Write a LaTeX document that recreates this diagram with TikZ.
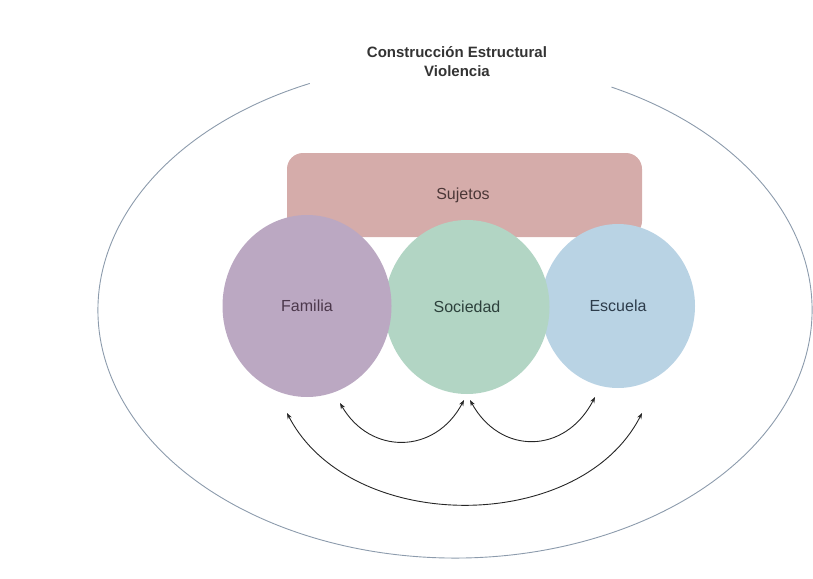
\documentclass[tikz,border=0pt]{standalone}
\usepackage{fontspec}
\setmainfont{Liberation Sans}
\usetikzlibrary{shapes.geometric,arrows.meta}
\definecolor{boxfill}{RGB}{213,172,170}
\definecolor{famfill}{RGB}{187,168,194}
\definecolor{socfill}{RGB}{178,213,196}
\definecolor{escfill}{RGB}{185,211,228}
\definecolor{famtext}{RGB}{75,55,75}
\definecolor{soctext}{RGB}{45,65,60}
\definecolor{esctext}{RGB}{45,60,75}
\definecolor{boxtext}{RGB}{75,55,55}
\definecolor{ringcol}{RGB}{140,155,172}
\tikzset{
  circ/.style={ellipse, inner sep=0pt, font=\fontsize{16}{19}\selectfont},
  link/.style={draw=black!85, line width=0.9pt, {Stealth[length=6pt,width=4.5pt]}-{Stealth[length=6pt,width=4.5pt]}},
}
\begin{document}
\begin{tikzpicture}[x=1pt,y=-1pt]
\useasboundingbox (0,0) rectangle (813,578);
% outer ring (open at the top)
\draw[ringcol, line width=0.9pt] (455,310) ++(114:357 and -248) arc[start angle=114, end angle=424, x radius=357, y radius=-248];
% title
\node[align=center, font=\bfseries\fontsize{15}{19}\selectfont, text=black!80] (title) at (457,62) {Construcción Estructural\\Violencia};
% sujetos box
\node[fill=boxfill, rounded corners=16pt, minimum width=355pt, minimum height=84pt, inner sep=0pt, text=boxtext, font=\fontsize{16}{19}\selectfont] (box) at (464.5,195) {};
\node[text=boxtext, font=\fontsize{16}{19}\selectfont] (sujetos) at (463,195) {Sujetos};
% circles
\node[circ, fill=escfill, minimum width=154pt, minimum height=164pt, text=esctext] (esc) at (618,306) {Escuela};
\node[circ, fill=socfill, minimum width=165pt, minimum height=174pt, text=soctext] (soc) at (467,307) {Sociedad};
\node[circ, fill=famfill, minimum width=169pt, minimum height=182pt, text=famtext] (fam) at (307,306) {Familia};
% arrow end points
\coordinate (a1) at (340,403);
\coordinate (a2) at (464,400);
\coordinate (b1) at (470,400);
\coordinate (b2) at (595,397);
\coordinate (c1) at (287,413);
\coordinate (c2) at (642,413);
\draw[link] (a1) .. controls (370,455) and (435,455) .. (a2);
\draw[link] (b1) .. controls (500,455) and (565,455) .. (b2);
\draw[link] (c1) .. controls (350,535) and (580,535) .. (c2);
\end{tikzpicture}
\end{document}
